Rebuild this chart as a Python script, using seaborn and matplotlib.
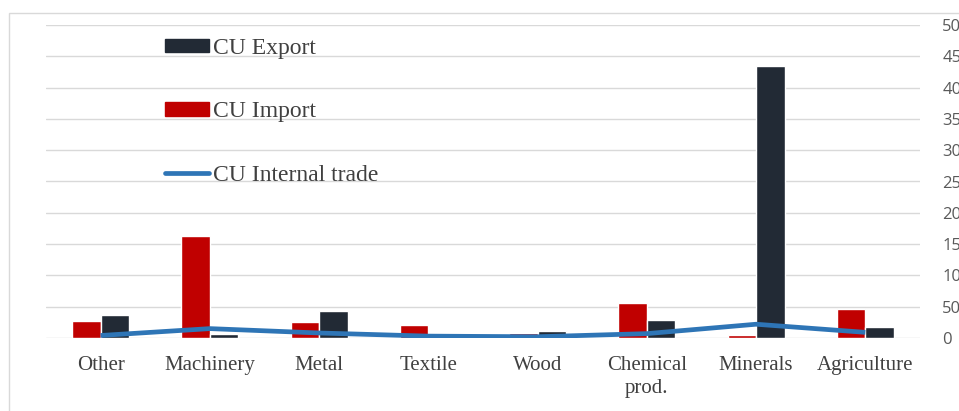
import pandas as pd
import numpy as np
import matplotlib
matplotlib.use("Agg")
import matplotlib.pyplot as plt
from matplotlib.patches import Patch, Rectangle
from matplotlib.lines import Line2D
import seaborn as sns

sns.set_theme(style="white")

# ---------------------------------------------------------------
# Data
# ---------------------------------------------------------------
categories = ["Other", "Machinery", "Metal", "Textile", "Wood",
              "Chemical\nprod.", "Minerals", "Agriculture"]
cu_import = [27, 163, 25, 20, 8, 56, 5, 46]
cu_export = [37, 7, 43, 1, 11, 28, 434, 17]
cu_internal = [4, 15, 8, 3, 2, 7, 22, 9]

EXPORT_C = "#222a35"
IMPORT_C = "#c00000"
LINE_C = "#2e75b6"

bars = pd.DataFrame({
    "category": categories * 2,
    "series": ["CU Import"] * len(categories) + ["CU Export"] * len(categories),
    "value": cu_import + cu_export,
})

fig = plt.figure(figsize=(9.59, 4.11), dpi=100)
ax = fig.add_axes([46 / 959, 1 - 338 / 411, (920 - 46) / 959, (338 - 25) / 411])

sns.barplot(data=bars, x="category", y="value", hue="series",
            hue_order=["CU Import", "CU Export"],
            palette={"CU Import": IMPORT_C, "CU Export": EXPORT_C},
            width=0.52, gap=0, saturation=1, legend=False, ax=ax)
ax.plot(np.arange(len(categories)), cu_internal, color=LINE_C, lw=3.4,
        solid_capstyle="butt", zorder=5)

ax.set_xlim(-0.5, len(categories) - 0.5)
ax.set_ylim(0, 500)
ax.set_yticks(range(0, 501, 50))
ax.yaxis.tick_right()
ax.grid(axis="y", color="#d9d9d9", lw=1)
ax.set_axisbelow(True)
for s in ax.spines.values():
    s.set_visible(False)
ax.set_xlabel("")
ax.set_ylabel("")
ax.tick_params(axis="y", length=0, pad=16, labelsize=12, labelcolor="#595959")
ax.tick_params(axis="x", length=0, pad=13, labelcolor="#404040")
for lab in ax.get_xticklabels():
    lab.set_fontfamily(["Liberation Serif", "DejaVu Serif"])
    lab.set_fontsize(15)
    lab.set_multialignment("center")
    lab.set_linespacing(1.25)
for lab in ax.get_yticklabels():
    lab.set_fontfamily(["Open Sans", "DejaVu Sans"])

handles = [
    Patch(facecolor=EXPORT_C, edgecolor=EXPORT_C),
    Patch(facecolor=IMPORT_C, edgecolor=IMPORT_C),
    Line2D([0], [0], color=LINE_C, lw=3.4),
]
fig.legend(handles, ["CU Export", "CU Import", "CU Internal trade"],
           loc="upper left", bbox_to_anchor=(165 / 959, 1 - 38 / 411),
           frameon=False, borderpad=0, borderaxespad=0,
           handlelength=1.85, handleheight=0.5, handletextpad=0.2,
           labelspacing=1.79, labelcolor="#404040",
           prop={"family": ["Liberation Serif", "DejaVu Serif"], "size": 17})

# light outer frame like the original chart area
fig.patches.append(Rectangle((9 / 959, -0.1), 1.2, 1 - 13 / 411 + 0.1,
                             transform=fig.transFigure, fill=False,
                             edgecolor="#d9d9d9", lw=1))

fig.savefig("out.png", dpi=100)
